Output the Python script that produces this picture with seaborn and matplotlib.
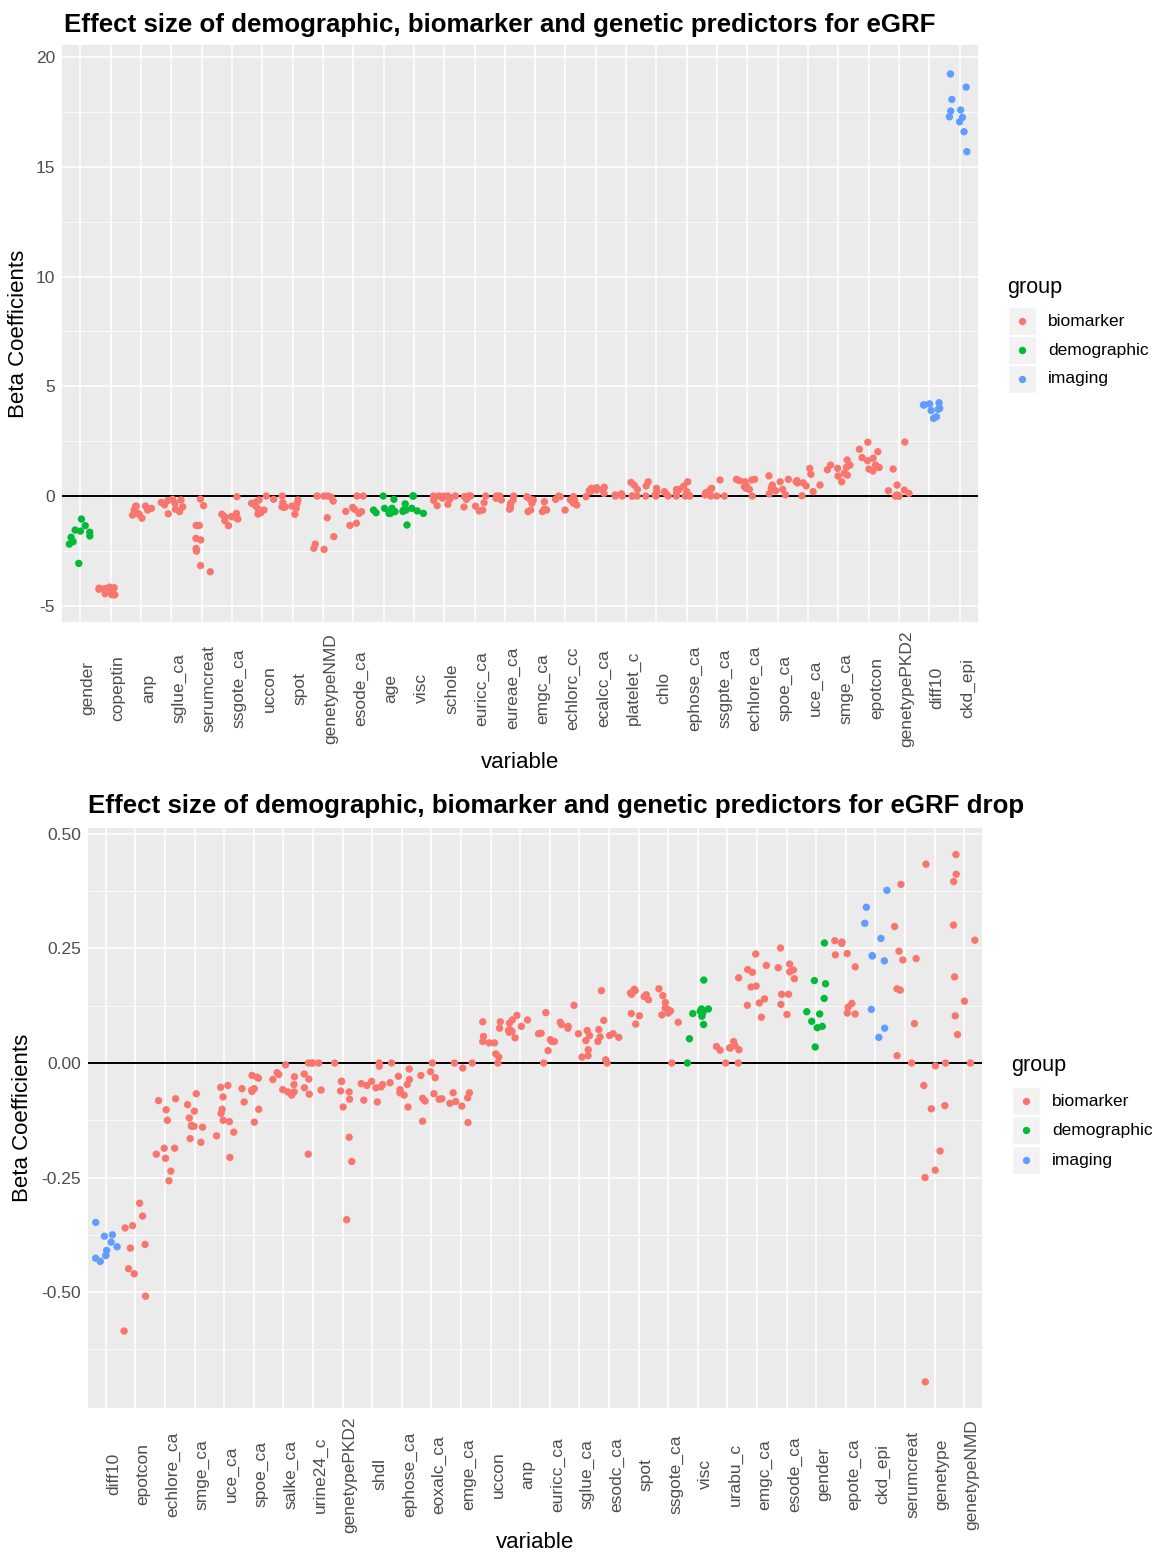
import numpy as np
import pandas as pd
import matplotlib
matplotlib.use("Agg")
import matplotlib.pyplot as plt
import seaborn as sns
from matplotlib.patches import Rectangle
from matplotlib.lines import Line2D

# ---------------- data ----------------
groups = ["biomarker", "demographic", "imaging"]
group_colors = ["#F8766D", "#00BA38", "#619CFF"]

top_title = "Effect size of demographic, biomarker and genetic predictors for eGRF"
top_vars = ["gender", "copeptin", "anp", "sglue_ca", "serumcreat", "ssgote_ca", "uccon", "spot",
            "genetypeNMD", "esode_ca", "age", "visc", "schole", "euricc_ca", "eureae_ca", "emgc_ca",
            "echlorc_cc", "ecalcc_ca", "platelet_c", "chlo", "ephose_ca", "ssgpte_ca", "echlore_ca",
            "spoe_ca", "uce_ca", "smge_ca", "epotcon", "genetypePKD2", "diff10", "ckd_epi"]
top_groups = ["demographic", "biomarker", "biomarker", "biomarker", "biomarker", "biomarker", "biomarker",
              "biomarker", "biomarker", "biomarker", "demographic", "demographic", "biomarker", "biomarker",
              "biomarker", "biomarker", "biomarker", "biomarker", "biomarker", "biomarker", "biomarker",
              "biomarker", "biomarker", "biomarker", "biomarker", "biomarker", "biomarker", "biomarker",
              "imaging", "imaging"]
top_values = [
    [-1.05, -1.35, -1.55, -1.6, -1.65, -1.82, -1.88, -2.08, -2.19, -3.07],
    [-4.2, -4.15, -4.18, -4.45, -4.5, -4.3, -4.25, -4.5, -4.22, -4.35],
    [-0.47, -0.46, -0.85, -0.87, -1.01, -0.64, -0.46, -0.64, -0.79, -0.56],
    [-0.49, -0.6, -0.18, -0.71, -0.81, -0.29, -0.33, -0.15, -0.21, -0.4],
    [-1.34, -2.0, -1.93, -2.51, -3.17, -3.45, -0.44, -1.34, -2.39, -0.14],
    [-1.12, -0.94, -0.94, -0.83, -0.94, -1.35, -0.03, -1.05, -0.79, -1.0],
    [-0.18, 0.0, -0.6, -0.64, -0.82, -0.76, -0.33, -0.27, -0.15, -0.45],
    [-0.33, -0.56, -0.18, -0.46, -0.83, -0.49, 0.0, -0.49, -0.52, -0.3],
    [-2.38, -2.43, -2.19, -1.85, -0.99, 0.0, 0.0, 0.0, -0.23, -0.05],
    [-0.76, -0.52, -0.71, -0.79, 0.0, 0.0, -1.24, -1.34, -0.6, -0.7],
    [-0.76, -0.79, -0.71, -0.71, -0.56, -0.56, -0.64, 0.0, -0.15, -0.79],
    [0.0, 0.0, -1.32, -0.64, -0.64, -0.79, -0.68, -0.36, -0.56, -0.7],
    [-0.44, -0.14, 0.0, 0.0, 0.0, -0.38, 0.0, -0.1, -0.2, 0.0],
    [-0.03, 0.0, -0.46, -0.64, -0.15, 0.0, -0.68, -0.3, 0.0, -0.5],
    [0.0, 0.0, -0.33, 0.0, -0.6, -0.18, -0.42, -0.18, -0.55, -0.1],
    [-0.64, -0.18, -0.6, -0.03, -0.26, -0.71, -0.64, -0.33, -0.71, -0.1],
    [-0.03, -0.41, -0.18, -0.64, -0.03, -0.15, -0.18, -0.15, 0.0, -0.33],
    [0.4, 0.35, 0.2, 0.3, 0.27, -0.03, 0.12, 0.38, 0.3, 0.25],
    [0.3, 0.0, 0.0, 0.0, 0.62, 0.49, 0.05, 0.0, 0.0, 0.1],
    [0.17, 0.65, 0.0, 0.35, 0.2, 0.46, 0.0, 0.0, 0.12, 0.05],
    [0.0, 0.3, 0.65, 0.12, 0.3, 0.0, 0.2, 0.05, 0.0, 0.45],
    [0.73, 0.2, 0.35, 0.0, 0.12, 0.3, 0.0, 0.0, 0.05, 0.15],
    [0.46, 0.7, 0.73, 0.76, 0.3, 0.0, 0.65, 0.76, 0.35, 0.42],
    [0.65, 0.92, 0.35, 0.05, 0.42, 0.24, 0.76, 0.5, 0.1, 0.3],
    [1.26, 0.99, 0.7, 0.46, 0.65, 0.01, 0.2, 0.6, 0.6, 0.5],
    [1.41, 0.91, 1.03, 0.65, 1.26, 1.64, 1.41, 1.31, 1.2, 0.95],
    [1.72, 1.61, 1.14, 2.45, 1.41, 2.13, 1.23, 2.02, 1.3, 1.75],
    [1.23, 0.12, 0.0, 0.24, 0.27, 0.5, 2.46, 0.0, 0.0, 0.05],
    [4.15, 4.0, 3.54, 3.61, 4.25, 4.15, 4.0, 3.95, 4.2, 3.9],
    [19.23, 18.63, 18.07, 17.59, 17.54, 17.28, 17.25, 17.05, 16.6, 15.69],
]
top_yticks = [-5, 0, 5, 10, 15, 20]
top_yticklabels = ["-5", "0", "5", "10", "15", "20"]
top_yminor = [-2.5, 2.5, 7.5, 12.5, 17.5]

bot_title = "Effect size of demographic, biomarker and genetic predictors for eGRF drop"
bot_vars = ["diff10", "epotcon", "echlore_ca", "smge_ca", "uce_ca", "spoe_ca", "salke_ca", "urine24_c",
            "genetypePKD2", "shdl", "ephose_ca", "eoxalc_ca", "emge_ca", "uccon", "anp", "euricc_ca",
            "sglue_ca", "esodc_ca", "spot", "ssgote_ca", "visc", "urabu_c", "emgc_ca", "esode_ca",
            "gender", "epote_ca", "ckd_epi", "serumcreat", "genetype", "genetypeNMD"]
bot_groups = ["imaging", "biomarker", "biomarker", "biomarker", "biomarker", "biomarker", "biomarker",
              "biomarker", "biomarker", "biomarker", "biomarker", "biomarker", "biomarker", "biomarker",
              "biomarker", "biomarker", "biomarker", "biomarker", "biomarker", "biomarker", "demographic",
              "biomarker", "biomarker", "biomarker", "demographic", "biomarker", "imaging", "biomarker",
              "biomarker", "biomarker"]
bot_values = [
    [-0.348, -0.375, -0.378, -0.391, -0.401, -0.409, -0.42, -0.426, -0.433, -0.42],
    [-0.306, -0.334, -0.355, -0.36, -0.404, -0.396, -0.449, -0.46, -0.509, -0.585],
    [-0.125, -0.078, -0.082, -0.102, -0.186, -0.199, -0.208, -0.236, -0.257, -0.186],
    [-0.091, -0.105, -0.138, -0.138, -0.136, -0.14, -0.173, -0.165, -0.067, -0.12],
    [-0.074, -0.053, -0.049, -0.11, -0.125, -0.128, -0.101, -0.151, -0.159, -0.206],
    [-0.062, -0.027, -0.031, -0.056, -0.059, -0.056, -0.085, -0.101, -0.129, -0.033],
    [-0.063, -0.063, -0.036, -0.025, -0.004, -0.021, -0.03, -0.047, -0.07, -0.058],
    [-0.059, -0.024, 0.0, 0.0, 0.0, 0.0, -0.054, -0.068, -0.035, -0.199],
    [0.0, -0.061, -0.04, -0.063, -0.079, -0.096, -0.04, -0.162, -0.215, -0.342],
    [-0.007, -0.047, -0.045, -0.052, -0.049, -0.04, 0.0, -0.085, -0.081, -0.054],
    [0.0, -0.029, -0.013, -0.058, -0.07, -0.047, -0.036, -0.096, -0.043, -0.065],
    [-0.019, -0.027, 0.0, -0.067, -0.079, -0.078, -0.127, -0.083, -0.032, -0.077],
    [0.0, -0.011, -0.065, -0.076, -0.065, -0.088, -0.094, -0.13, 0.0, -0.084],
    [0.09, 0.076, 0.09, 0.058, 0.044, 0.02, 0.013, 0.047, 0.044, 0.0],
    [0.08, 0.094, 0.067, 0.055, 0.094, 0.087, 0.071, 0.104, 0.073, 0.069],
    [0.064, 0.051, 0.047, 0.027, 0.065, 0.11, 0.047, 0.089, 0.084, 0.0],
    [0.076, 0.071, 0.06, 0.064, 0.049, 0.016, 0.013, 0.029, 0.08, 0.126],
    [0.093, 0.057, 0.056, 0.047, 0.064, 0.073, 0.007, 0.0, 0.158, 0.06],
    [0.103, 0.161, 0.145, 0.153, 0.108, 0.158, 0.085, 0.15, 0.138, 0.149],
    [0.162, 0.12, 0.105, 0.118, 0.147, 0.109, 0.089, 0.132, 0.0, 0.114],
    [0.181, 0.0, 0.084, 0.118, 0.113, 0.108, 0.102, 0.11, 0.118, 0.053],
    [0.186, 0.0, 0.0, 0.033, 0.036, 0.029, 0.038, 0.033, 0.047, 0.028],
    [0.198, 0.166, 0.131, 0.126, 0.213, 0.168, 0.238, 0.204, 0.1, 0.14],
    [0.216, 0.251, 0.203, 0.208, 0.184, 0.15, 0.15, 0.106, 0.199, 0.128],
    [0.262, 0.18, 0.173, 0.141, 0.112, 0.107, 0.091, 0.08, 0.077, 0.035],
    [0.21, 0.236, 0.239, 0.261, 0.267, 0.13, 0.109, 0.107, 0.122, 0.264],
    [0.377, 0.34, 0.305, 0.272, 0.234, 0.234, 0.223, 0.117, 0.076, 0.056],
    [0.39, 0.298, 0.244, 0.228, 0.225, 0.162, 0.159, 0.086, 0.016, 0.0],
    [0.434, 0.0, -0.006, -0.049, -0.093, -0.1, -0.192, -0.234, -0.25, -0.696],
    [0.455, 0.412, 0.396, 0.301, 0.268, 0.188, 0.135, 0.103, 0.062, 0.0],
]
bot_yticks = [-0.5, -0.25, 0.0, 0.25, 0.5]
bot_yticklabels = ["-0.50", "-0.25", "0.00", "0.25", "0.50"]
bot_yminor = [-0.625, -0.375, -0.125, 0.125, 0.375]

# ---------------- style ----------------
sns.set_style("white")
plt.rcParams["font.family"] = ["Liberation Sans", "DejaVu Sans"]
plt.rcParams["text.color"] = "black"

W, H = 1154, 1556
DPI = 100
fig = plt.figure(figsize=(W / DPI, H / DPI), dpi=DPI)
fig.patch.set_facecolor("white")

PT_SIZE = 5.3


def add_axes_px(l, t, r, b):
    return fig.add_axes([l / W, 1 - b / H, (r - l) / W, (b - t) / H])


palette = dict(zip(groups, group_colors))


def panel(ax, vars_, grps, vals, ylim, yticks, yticklabels, yminor, seed):
    counts = [len(v) for v in vals]
    df = pd.DataFrame({
        "variable": np.repeat(vars_, counts),
        "value": np.concatenate(vals),
        "group": np.repeat(grps, counts),
    })
    ax.set_facecolor("#EBEBEB")
    np.random.seed(seed)
    sns.stripplot(data=df, x="variable", y="value", hue="group", order=vars_,
                  hue_order=groups, palette=palette, jitter=0.4, size=PT_SIZE,
                  linewidth=0, ax=ax, legend=False, zorder=3)
    ax.axhline(0, color="black", lw=1.4, zorder=2)
    ax.set_xlim(-0.6, len(vars_) - 0.4)
    ax.set_ylim(*ylim)
    ax.set_yticks(yticks)
    ax.set_yticklabels(yticklabels)
    ax.set_yticks(yminor, minor=True)
    ax.set_axisbelow(True)
    ax.grid(which="major", axis="both", color="white", lw=1.1)
    ax.grid(which="minor", axis="y", color="white", lw=0.55)
    for s in ax.spines.values():
        s.set_visible(False)
    ax.tick_params(which="major", length=2.9, width=0.8, color="#333333",
                   labelcolor="#4D4D4D", labelsize=12.5)
    ax.tick_params(axis="y", which="major", pad=2)
    ax.tick_params(which="minor", length=0)
    for t in ax.get_xticklabels():
        t.set_rotation(90)
        t.set_rotation_mode("anchor")
        t.set_ha("center")
        t.set_va("top")
    ax.set_xlabel("variable", fontsize=16, color="black", va="center")
    ax.set_ylabel("Beta Coefficients", fontsize=16, color="black", va="center")


ax1 = add_axes_px(62, 45, 978, 622)
panel(ax1, top_vars, top_groups, top_values, (-5.74, 20.55),
      top_yticks, top_yticklabels, top_yminor, seed=3)
ax2 = add_axes_px(88, 828, 982, 1408)
panel(ax2, bot_vars, bot_groups, bot_values, (-0.753, 0.513),
      bot_yticks, bot_yticklabels, bot_yminor, seed=7)

# centre the rotated tick labels like ggplot (hjust = 0.5)
fig.canvas.draw()
renderer = fig.canvas.get_renderer()
for ax in (ax1, ax2):
    maxlen = max(t.get_window_extent(renderer).height for t in ax.get_xticklabels())
    pad_px = 4 + maxlen / 2
    ax.tick_params(axis="x", which="major", pad=pad_px * 72 / DPI)

ax1.xaxis.set_label_coords(0.5, (622 - 763) / 577)
ax1.yaxis.set_label_coords((19 - 62) / 916, 0.5)
ax2.xaxis.set_label_coords(0.5, (1408 - 1543) / 580)
ax2.yaxis.set_label_coords((23 - 88) / 894, 0.5)

# titles
fig.text(64 / W, 1 - 32 / H, top_title, fontsize=18.6, fontweight="bold", color="black",
         ha="left", va="baseline")
fig.text(88 / W, 1 - 813 / H, bot_title, fontsize=18.6, fontweight="bold", color="black",
         ha="left", va="baseline")


# legends (ggplot style keys)
def legend(x0, ytitle, ykeys):
    fig.text(x0 / W, 1 - ytitle / H, "group", fontsize=15.5, color="black", ha="left", va="center")
    for g, c, yk in zip(groups, group_colors, ykeys):
        fig.add_artist(Rectangle(((x0 + 1) / W, 1 - (yk + 14) / H), 28 / W, 28 / H,
                                 transform=fig.transFigure, facecolor="#F2F2F2",
                                 edgecolor="white", lw=1))
        fig.add_artist(Line2D([(x0 + 15) / W], [1 - yk / H], marker="o", color=c,
                              markersize=PT_SIZE, linestyle="none", markeredgewidth=0,
                              transform=fig.transFigure))
        fig.text((x0 + 41) / W, 1 - yk / H, g, fontsize=12.5, color="black", ha="left", va="center")


legend(1007, 287, [321, 350, 379])
legend(1011, 1066, [1101, 1130, 1160])

fig.savefig("out.png", dpi=DPI)
